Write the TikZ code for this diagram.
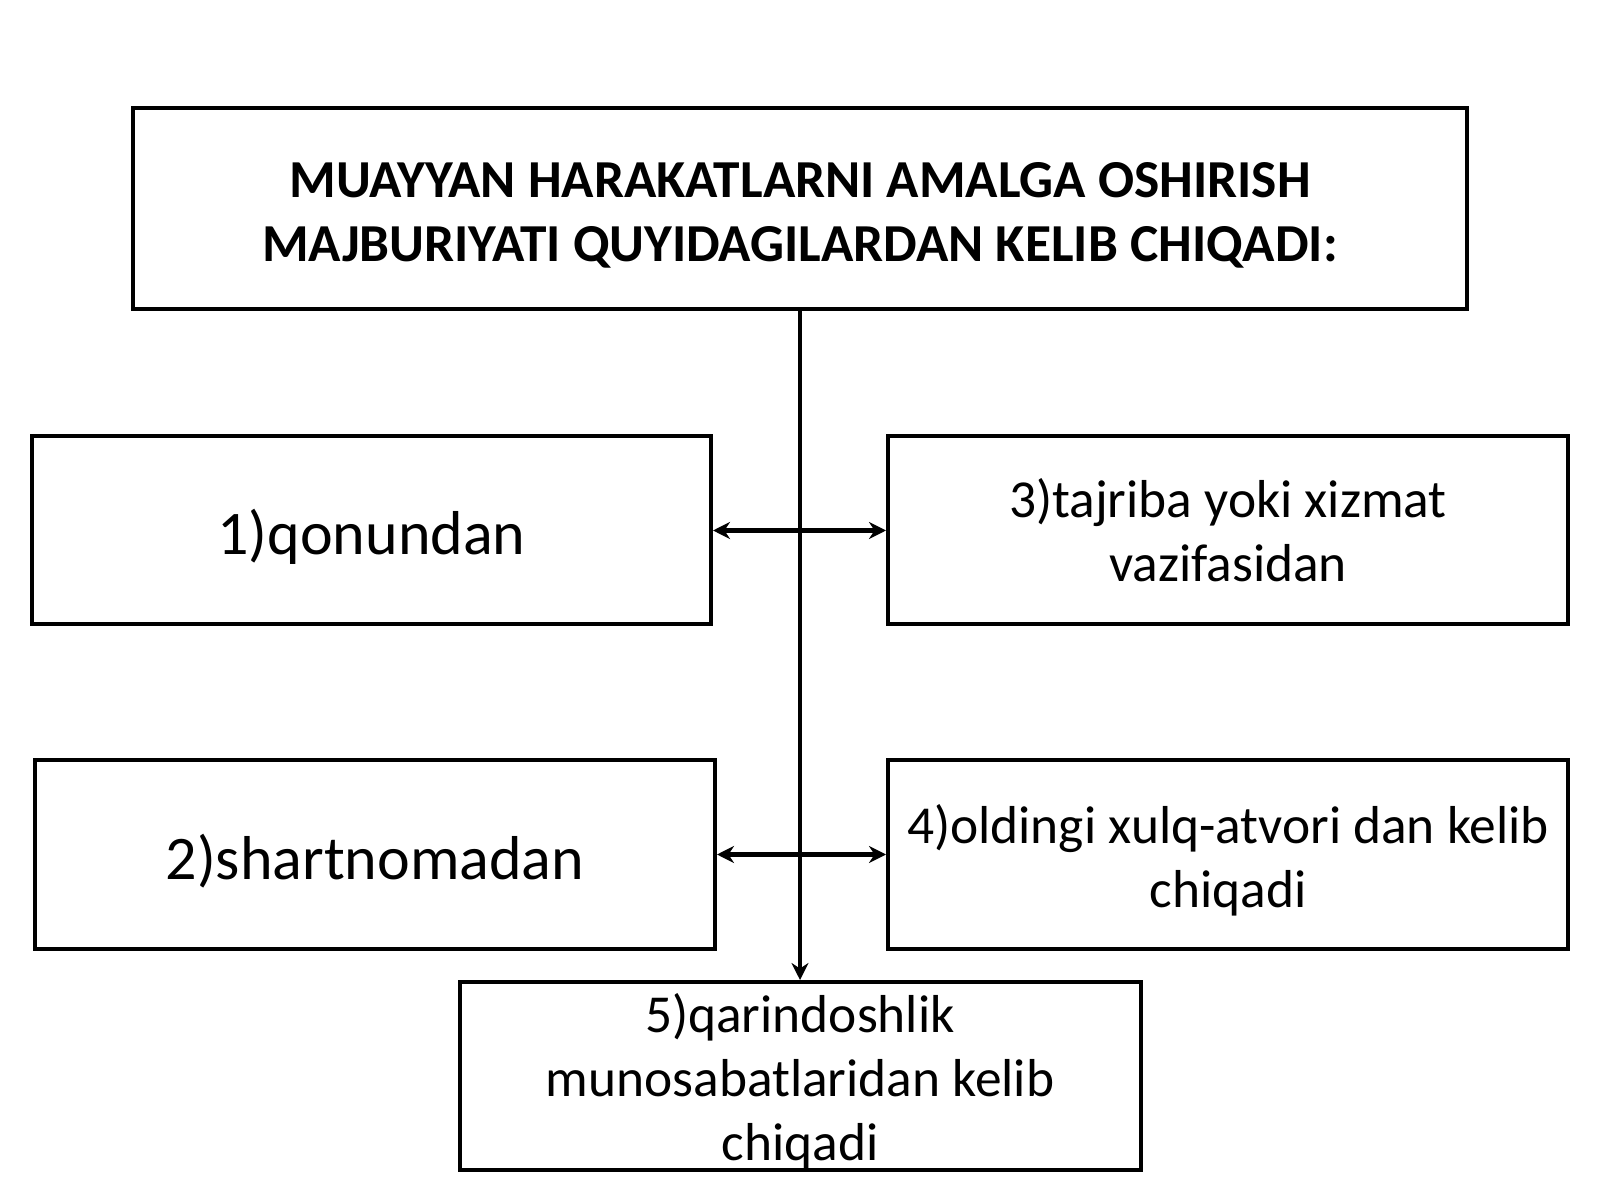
\documentclass[tikz,border=0pt]{standalone}
\usepackage{fontspec}
\setmainfont{Carlito}
\usetikzlibrary{arrows.meta}
\newcommand{\lift}{\rule{0pt}{0.93em}}
\tikzset{
	box/.style={draw, line width=4pt, inner sep=6pt, align=center, minimum height=188pt},
	big/.style={font=\fontsize{62}{74}\selectfont},
	small/.style={font=\fontsize{53.4}{64}\selectfont},
	tip/.style={-{Stealth[length=17pt,width=17pt]}},
	link/.style={line width=4.5pt, tip},
	both/.style={line width=4.5pt, {Stealth[length=17pt,width=17pt]}-{Stealth[length=17pt,width=17pt]}},
}
\begin{document}
\begin{tikzpicture}[x=1pt,y=1pt]
				\useasboundingbox (0,0) rectangle (1600,1200);
				\node[box, minimum width=1334pt, minimum height=201pt, font=\bfseries\fontsize{53.4}{64}\selectfont] (T) at (800,991.5) {\lift MUAYYAN HARAKATLARNI AMALGA OSHIRISH\\MAJBURIYATI QUYIDAGILARDAN KELIB CHIQADI:};
				\node[box, big, minimum width=679pt] (B1) at (371.5,669.5) {\lift 1)qonundan};
				\node[box, small, minimum width=680pt] (B3) at (1228,669.5) {3)tajriba yoki xizmat\\vazifasidan};
				\node[box, big, minimum width=680pt] (B2) at (375,345.5) {\lift 2)shartnomadan};
				\node[box, small, minimum width=680pt] (B4) at (1228,345.5) {\lift 4)oldingi xulq-atvori dan kelib\\chiqadi};
				\node[box, small, minimum width=681pt, inner ysep=0pt] (B5) at (800,124) {\lift 5)qarindoshlik\\munosabatlaridan kelib\\chiqadi};
				\draw[link] (T.south) -- (B5.north);
				\draw[both] (B1.east) -- (B3.west);
				\draw[both] (B2.east) -- (B4.west);
			\end{tikzpicture}
\end{document}
